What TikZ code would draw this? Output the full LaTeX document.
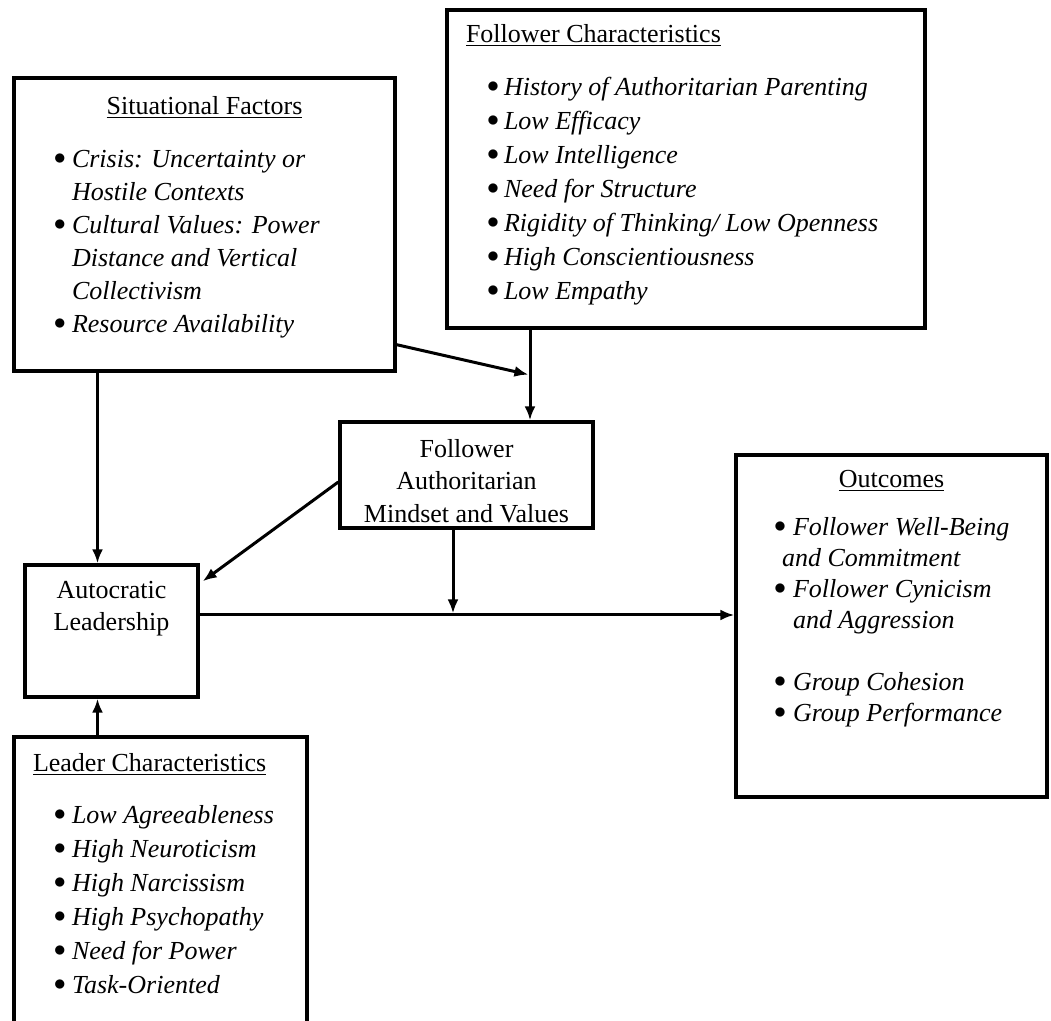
\documentclass[tikz,border=0pt]{standalone}
\usepackage{fontspec}
\setmainfont{Liberation Serif}
\usetikzlibrary{arrows.meta, calc}

\newlength{\bulx}
\newlength{\bulw}
\setlength{\bulw}{9pt}
\newcommand{\bitem}[1]{\par\noindent\hspace*{\bulx}\makebox[\bulw][l]{\raisebox{0.2ex}{$\bullet$}}\textit{#1}}
\newcommand{\bmore}[1]{\par\noindent\hspace*{\bulx}\hspace*{\bulw}\textit{#1}}

\begin{document}
\begin{tikzpicture}[x=0.5pt, y=-0.5pt, font=\fontsize{13}{16.5}\selectfont]

% Stili dei blocchi
\tikzstyle{block} = [rectangle, draw, line width=1.7pt, inner sep=0pt]
\tikzstyle{arrow} = [line width=1.5pt, -{Latex[length=7pt,width=5.5pt]}]

\path[use as bounding box, clip] (0,0) rectangle (1051,1021);

% Nodi
\node (sit) [block] at (204.5,224.5) {\parbox[c][146.5pt][t]{190.5pt}{%
  \vspace*{9pt}
  \centerline{\underline{Situational Factors}}\par
  \vspace{10pt}
  \setlength{\bulx}{20pt}
  \bitem{Crisis: Uncertainty or}
  \bmore{Hostile Contexts}
  \bitem{Cultural Values: Power}
  \bmore{Distance and Vertical}
  \bmore{Collectivism}
  \bitem{Resource Availability}}};

\node (folc) [block] at (686,169) {\parbox[c][159pt][t]{239pt}{%
  \fontsize{13}{17}\selectfont
  \vspace*{7pt}
  \noindent\hspace*{9.5pt}\underline{Follower Characteristics}\par
  \vspace{9.5pt}
  \setlength{\bulx}{20pt}\setlength{\bulw}{8.5pt}
  \bitem{History of Authoritarian Parenting}
  \bitem{Low Efficacy}
  \bitem{Low Intelligence}
  \bitem{Need for Structure}
  \bitem{Rigidity of Thinking/ Low Openness}
  \bitem{High Conscientiousness}
  \bitem{Low Empathy}}};

\node (fam) [block] at (466.5,475) {\parbox[c][53pt][t]{126.5pt}{%
  \fontsize{13}{16.25}\selectfont\centering
  \vspace*{8.5pt}
  Follower\par Authoritarian\par Mindset and Values}};

\node (auto) [block] at (111.5,631) {\parbox[c][66pt][t]{86.5pt}{%
  \fontsize{13}{16}\selectfont\centering
  \vspace*{8pt}
  Autocratic\par Leadership}};

\node (outc) [block] at (891.5,626) {\parbox[c][171pt][t]{155.5pt}{%
  \fontsize{13}{15.5}\selectfont
  \vspace*{7.5pt}
  \centerline{\underline{Outcomes}}\par
  \vspace{8.5pt}
  \setlength{\bulx}{19pt}\setlength{\bulw}{9.5pt}
  \bitem{Follower Well-Being}
  \par\noindent\hspace*{23pt}\textit{and Commitment}
  \bitem{Follower Cynicism}
  \bmore{and Aggression}
  \vspace{15.5pt}
  \bitem{Group Cohesion}
  \bitem{Group Performance}}};

\node (lead) [block] at (160.5,887) {\parbox[c][150pt][t]{146.5pt}{%
  \fontsize{13}{17}\selectfont
  \vspace*{8pt}
  \noindent\hspace*{9.5pt}\underline{Leader Characteristics}\par
  \vspace{9pt}
  \setlength{\bulx}{20pt}\setlength{\bulw}{9pt}
  \bitem{Low Agreeableness}
  \bitem{High Neuroticism}
  \bitem{High Narcissism}
  \bitem{High Psychopathy}
  \bitem{Need for Power}
  \bitem{Task-Oriented}}};

% Punti di aggancio
\coordinate (fin) at ([xshift=31.75pt]fam.north);
\coordinate (meet) at ($(fin |- folc.south)!0.5!(fin)$);
\coordinate (ain) at ([xshift=-7pt]auto.north);
\coordinate (aup) at ([xshift=-7pt]auto.south);
\coordinate (aout) at ([yshift=8pt]auto.east);
\coordinate (fout) at ([xshift=-6.75pt]fam.south);

% Frecce
\draw [arrow] (fin |- folc.south) -- (fin);
\draw [arrow, shorten >=0.8pt] ([yshift=14pt]sit.south east) -- (meet);
\draw [arrow] (ain |- sit.south) -- (ain);
\draw [arrow] (aup |- lead.north) -- (aup);
\draw [arrow] ([yshift=-3.5pt]fam.west) -- ([xshift=1.5pt,yshift=-9pt]auto.north east);
\draw [arrow] (aout) -- (aout -| outc.west);
\draw [arrow, shorten >=0.8pt] (fout) -- (fout |- aout);

\end{tikzpicture}
\end{document}
